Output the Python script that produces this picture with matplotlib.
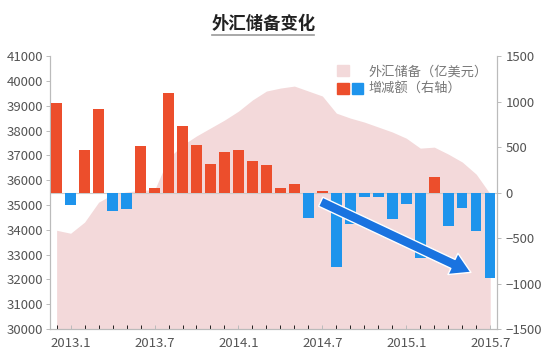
import numpy as np
import matplotlib
matplotlib.use("Agg")
import matplotlib.pyplot as plt
from matplotlib.patches import Patch
from matplotlib.legend_handler import HandlerTuple
from matplotlib.lines import Line2D

plt.rcParams['font.family'] = ['Noto Sans CJK SC', 'DejaVu Sans']

# monthly data, 2012.12 - 2015.7
reserves = [33980, 33860, 34310, 35110, 35430, 35520, 35600, 35600,
            36890, 37410, 37780, 38100, 38420, 38780, 39230, 39590,
            39710, 39790, 39590, 39390, 38700, 38500, 38340, 38140,
            37940, 37690, 37290, 37330, 37050, 36730, 36240, 35440]
change = [980, -140, 470, 918, -198, -180, 510, 52,
          1095, 735, 526, 316, 448, 470, 345, 301,
          52, 92, -276, 20, -816, -342, -48, -45,
          -294, -121, -717, 176, -364, -169, -423, -937]
xlabels = ['2013.1', '2013.7', '2014.1', '2014.7', '2015.1', '2015.7']
xlabel_pos = [1, 7, 13, 19, 25, 31]

pink = '#F3D9DA'
red = '#EC4E2C'
blue = '#1E94EC'
grey = '#555555'

x = np.arange(len(reserves))

fig = plt.figure(figsize=(5.44, 3.64), dpi=100)
ax1 = fig.add_axes([0.092, 0.096, 0.822, 0.750])
ax2 = ax1.twinx()

ax1.fill_between(x, 30000, reserves, color=pink, lw=0)
ax1.set_ylim(30000, 41000)
ax1.set_yticks(np.arange(30000, 41001, 1000))
ax1.set_xlim(-0.47, 31.5)

cols = [red if v >= 0 else blue for v in change]
ax2.bar(x, change, width=0.75, color=cols, zorder=3)
ax2.axhline(0, color='#cccccc', lw=0.8, zorder=2)
ax2.set_ylim(-1500, 1500)
ax2.set_yticks(np.arange(-1500, 1501, 500))

ax1.set_xticks(xlabel_pos)
ax1.set_xticklabels(xlabels)
ax1.set_xticks(x, minor=True)

for ax in (ax1, ax2):
    for s in ax.spines.values():
        s.set_color('#bbbbbb')
        s.set_linewidth(0.8)
    ax.spines['top'].set_visible(False)
    ax.tick_params(colors='#bbbbbb', labelcolor=grey, labelsize=9.5, length=3, width=0.7)

ax1.tick_params(axis='x', which='both', direction='in', length=3, pad=6)
ax1.tick_params(axis='y', pad=2)
ax2.tick_params(axis='y', pad=3)

# arrow
ax2.annotate('', xy=(29.8, -890), xytext=(18.7, -88),
             arrowprops=dict(arrowstyle='simple,head_length=1.1,head_width=1.3,tail_width=0.55',
                             mutation_scale=13, fc='#1a73e0', ec='white', lw=1.0), zorder=5)

handles = [(Patch(color=pink), Patch(alpha=0)), (Patch(color=red), Patch(color=blue))]
leg = ax2.legend(handles, ['外汇储备（亿美元）', '增减额（右轴）'],
                 handler_map={tuple: HandlerTuple(ndivide=None, pad=0.25)},
                 loc='upper right', bbox_to_anchor=(1.0, 1.0), frameon=False,
                 fontsize=9.5, labelcolor='#777777', handlelength=2.0, handleheight=0.9,
                 handletextpad=0.4, borderaxespad=0.3, labelspacing=0.35)
leg.set_zorder(6)

fig.text(0.484, 0.935, '外汇储备变化', ha='center', va='center', fontsize=12.5,
         fontweight='bold', color='#222222')
fig.add_artist(Line2D([0.39, 0.578], [0.905, 0.905], color='#999999', lw=1.2))

fig.savefig('out.png', dpi=100)
